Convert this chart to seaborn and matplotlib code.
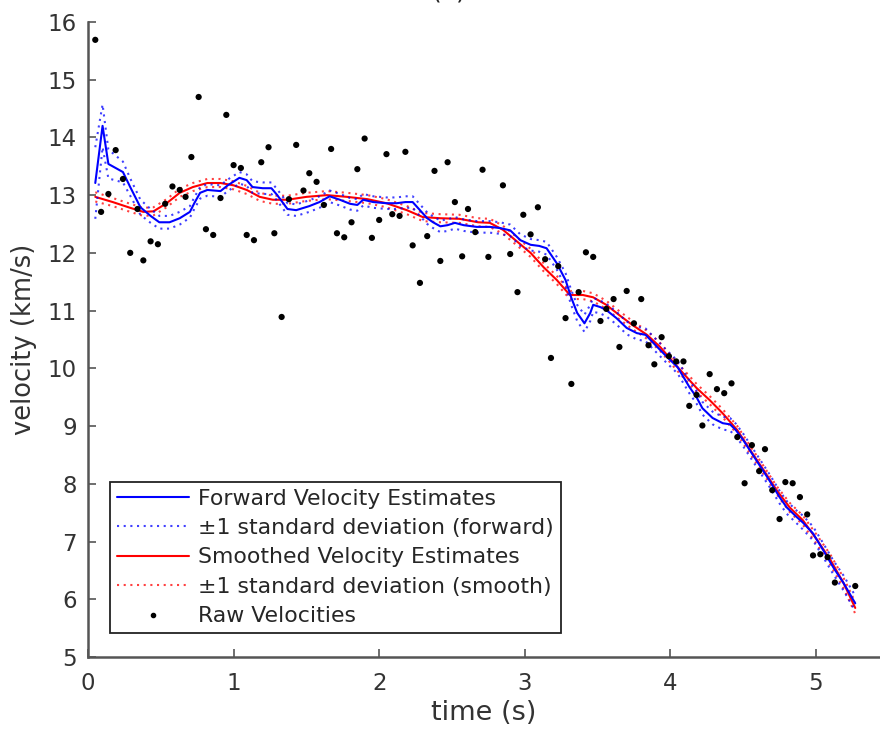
import numpy as np
import pandas as pd
import matplotlib
matplotlib.use("Agg")
import matplotlib.pyplot as plt
from matplotlib.lines import Line2D
import seaborn as sns

# ---------------- data ----------------
fwd_t = [0.05, 0.10, 0.14, 0.24, 0.29, 0.36, 0.43, 0.49, 0.56, 0.63,
         0.70, 0.73, 0.77, 0.82, 0.91, 0.96, 1.04, 1.09, 1.13, 1.20,
         1.26, 1.30, 1.37, 1.43, 1.52, 1.59, 1.66, 1.73, 1.80, 1.85,
         1.89, 1.96, 2.05, 2.12, 2.18, 2.23, 2.28, 2.33, 2.37, 2.42,
         2.47, 2.52, 2.58, 2.67, 2.76, 2.83, 2.90, 2.97, 3.04, 3.10,
         3.15, 3.22, 3.28, 3.32, 3.36, 3.41, 3.45, 3.47, 3.52, 3.56,
         3.63, 3.70, 3.77, 3.83, 3.91, 3.98, 4.05, 4.13, 4.18, 4.22,
         4.29, 4.36, 4.41, 4.45, 4.50, 4.59, 4.68, 4.75, 4.80, 4.87,
         4.91, 4.98, 5.05, 5.12, 5.19, 5.27]
fwd_v = [13.21, 14.20, 13.54, 13.40, 13.14, 12.79, 12.64, 12.53, 12.53, 12.60,
         12.71, 12.86, 13.04, 13.09, 13.07, 13.17, 13.30, 13.26, 13.14, 13.12,
         13.12, 13.00, 12.76, 12.74, 12.81, 12.88, 12.98, 12.92, 12.85, 12.83,
         12.92, 12.88, 12.86, 12.86, 12.88, 12.88, 12.74, 12.60, 12.53, 12.46,
         12.48, 12.52, 12.48, 12.45, 12.45, 12.43, 12.39, 12.22, 12.14, 12.12,
         12.08, 11.82, 11.53, 11.22, 10.96, 10.78, 10.96, 11.10, 11.06, 11.01,
         10.87, 10.70, 10.61, 10.58, 10.37, 10.19, 10.02, 9.68, 9.50, 9.31,
         9.14, 9.05, 9.03, 8.93, 8.76, 8.41, 8.06, 7.77, 7.59, 7.42,
         7.33, 7.14, 6.85, 6.55, 6.28, 5.93]
fwd_sd = [0.62, 0.37, 0.25, 0.18, 0.15, 0.13, 0.12, 0.11, 0.11, 0.11,
          0.10, 0.10, 0.10, 0.10, 0.10, 0.10, 0.10, 0.10, 0.10, 0.10,
          0.10, 0.10, 0.10, 0.10, 0.10, 0.10, 0.10, 0.10, 0.10, 0.10,
          0.10, 0.10, 0.10, 0.10, 0.10, 0.10, 0.10, 0.10, 0.10, 0.10,
          0.10, 0.10, 0.10, 0.10, 0.10, 0.10, 0.10, 0.10, 0.10, 0.10,
          0.11, 0.11, 0.12, 0.13, 0.14, 0.15, 0.14, 0.12, 0.11, 0.11,
          0.11, 0.11, 0.11, 0.11, 0.11, 0.11, 0.11, 0.11, 0.11, 0.11,
          0.11, 0.11, 0.11, 0.11, 0.11, 0.11, 0.11, 0.11, 0.11, 0.11,
          0.12, 0.12, 0.12, 0.12, 0.13, 0.13]

sm_t = [0.05, 0.17, 0.29, 0.38, 0.45, 0.54, 0.63, 0.72, 0.82, 0.91,
        1.00, 1.09, 1.18, 1.27, 1.37, 1.50, 1.64, 1.78, 1.92, 2.05,
        2.19, 2.30, 2.42, 2.55, 2.68, 2.76, 2.85, 2.95, 3.04, 3.13,
        3.22, 3.31, 3.40, 3.47, 3.56, 3.65, 3.74, 3.84, 3.93, 4.05,
        4.18, 4.27, 4.36, 4.46, 4.55, 4.64, 4.73, 4.82, 4.91, 5.01,
        5.10, 5.19, 5.27]
sm_v = [12.97, 12.88, 12.78, 12.71, 12.72, 12.86, 13.04, 13.14, 13.21, 13.21,
        13.17, 13.09, 12.97, 12.92, 12.92, 12.97, 13.00, 12.97, 12.93, 12.86,
        12.74, 12.62, 12.60, 12.59, 12.53, 12.52, 12.40, 12.19, 12.00, 11.75,
        11.53, 11.27, 11.27, 11.23, 11.10, 10.92, 10.75, 10.58, 10.37, 10.02,
        9.66, 9.45, 9.22, 8.93, 8.58, 8.24, 7.89, 7.59, 7.37, 7.02,
        6.68, 6.28, 5.85]
sm_sd = [0.08, 0.07, 0.07, 0.07, 0.07, 0.07, 0.07, 0.07, 0.07, 0.07,
         0.07, 0.07, 0.07, 0.07, 0.07, 0.07, 0.07, 0.07, 0.07, 0.07,
         0.07, 0.07, 0.07, 0.07, 0.07, 0.07, 0.07, 0.07, 0.07, 0.07,
         0.07, 0.07, 0.07, 0.07, 0.07, 0.07, 0.07, 0.07, 0.07, 0.07,
         0.07, 0.07, 0.07, 0.07, 0.07, 0.07, 0.07, 0.08, 0.08, 0.08,
         0.09, 0.09, 0.10]

raw_t = [0.05, 0.09, 0.14, 0.19, 0.24, 0.29, 0.34, 0.38, 0.43, 0.48,
         0.53, 0.58, 0.63, 0.67, 0.71, 0.76, 0.81, 0.86, 0.91, 0.95,
         1.00, 1.05, 1.09, 1.14, 1.19, 1.24, 1.28, 1.33, 1.38, 1.43,
         1.48, 1.52, 1.57, 1.62, 1.67, 1.71, 1.76, 1.81, 1.85, 1.90,
         1.95, 2.00, 2.05, 2.09, 2.14, 2.18, 2.23, 2.28, 2.33, 2.38,
         2.42, 2.47, 2.52, 2.57, 2.61, 2.66, 2.71, 2.75, 2.85, 2.90,
         2.95, 2.99, 3.04, 3.09, 3.14, 3.18, 3.23, 3.28, 3.32, 3.37,
         3.42, 3.47, 3.52, 3.56, 3.61, 3.65, 3.70, 3.75, 3.80, 3.85,
         3.89, 3.94, 3.99, 4.04, 4.09, 4.13, 4.18, 4.22, 4.27, 4.32,
         4.37, 4.42, 4.46, 4.51, 4.56, 4.61, 4.65, 4.70, 4.75, 4.79,
         4.84, 4.89, 4.94, 4.98, 5.03, 5.08, 5.13, 5.27]
raw_v = [15.69, 12.71, 13.02, 13.78, 13.28, 12.00, 12.76, 11.87, 12.20, 12.15,
         12.85, 13.15, 13.09, 12.97, 13.66, 14.70, 12.41, 12.31, 12.95, 14.39,
         13.52, 13.47, 12.31, 12.22, 13.57, 13.83, 12.34, 10.89, 12.93, 13.87,
         13.08, 13.38, 13.23, 12.83, 13.80, 12.34, 12.27, 12.53, 13.45, 13.98,
         12.26, 12.57, 13.71, 12.67, 12.64, 13.75, 12.13, 11.48, 12.29, 13.42,
         11.86, 13.57, 12.88, 11.94, 12.76, 12.36, 13.44, 11.93, 13.17, 11.98,
         11.32, 12.66, 12.32, 12.79, 11.89, 10.18, 11.77, 10.87, 9.73, 11.32,
         12.01, 11.93, 10.82, 11.03, 11.20, 10.37, 11.34, 10.78, 11.20, 10.40,
         10.07, 10.54, 10.21, 10.12, 10.12, 9.35, 9.54, 9.01, 9.90, 9.64,
         9.57, 9.74, 8.81, 8.01, 8.67, 8.22, 8.60, 7.89, 7.39, 8.03,
         8.01, 7.77, 7.47, 6.76, 6.78, 6.73, 6.29, 6.23]

x_ticks = [0, 1, 2, 3, 4, 5]
y_ticks = [5, 6, 7, 8, 9, 10, 11, 12, 13, 14, 15, 16]

labels = ["Forward Velocity Estimates",
          "\u00b11 standard deviation (forward)",
          "Smoothed Velocity Estimates",
          "\u00b11 standard deviation (smooth)",
          "Raw Velocities"]

# ---------------- plot ----------------
sns.set_theme(style="ticks")
plt.rcParams['font.family'] = ['DejaVu Sans']

fwd = pd.DataFrame({"t": fwd_t, "v": fwd_v, "sd": fwd_sd})
fwd["hi"] = fwd["v"] + fwd["sd"]
fwd["lo"] = fwd["v"] - fwd["sd"]
sm = pd.DataFrame({"t": sm_t, "v": sm_v, "sd": sm_sd})
sm["hi"] = sm["v"] + sm["sd"]
sm["lo"] = sm["v"] - sm["sd"]
raw = pd.DataFrame({"t": raw_t, "v": raw_v})

fig = plt.figure(figsize=(8.8, 7.31), dpi=100)
ax = fig.add_axes([0.1, 0.1012, 0.9, 0.8688])

BLUE = "#0000ff"
RED = "#ff0000"
dot_kw = dict(linestyle=(0, (1, 2.2)), linewidth=1.5, alpha=0.75)

sns.lineplot(data=sm, x="t", y="hi", color=RED, sort=False, estimator=None, ax=ax, **dot_kw)
sns.lineplot(data=sm, x="t", y="lo", color=RED, sort=False, estimator=None, ax=ax, **dot_kw)
sns.lineplot(data=sm, x="t", y="v", color=RED, sort=False, estimator=None, ax=ax, linewidth=1.5)
sns.lineplot(data=fwd, x="t", y="hi", color=BLUE, sort=False, estimator=None, ax=ax, **dot_kw)
sns.lineplot(data=fwd, x="t", y="lo", color=BLUE, sort=False, estimator=None, ax=ax, **dot_kw)
sns.lineplot(data=fwd, x="t", y="v", color=BLUE, sort=False, estimator=None, ax=ax, linewidth=1.5)
sns.scatterplot(data=raw, x="t", y="v", color="black", s=20, edgecolor="none", ax=ax, zorder=5)

ax.set_xlim(0, 5.44)
ax.set_ylim(5, 16)
ax.set_xticks(x_ticks)
ax.set_yticks(y_ticks)
ax.set_xlabel("time (s)", fontsize=19.5, color="#333333")
ax.set_ylabel("velocity (km/s)", fontsize=18.5, color="#333333")
ax.xaxis.set_label_coords(0.5, -0.068)
ax.yaxis.set_label_coords(-0.064, 0.5)
ax.tick_params(direction="in", length=6, width=1.2, colors="#555555",
               labelcolor="#333333", labelsize=16.5)
ax.tick_params(axis="y", pad=8)
ax.tick_params(axis="x", pad=11)
sns.despine(ax=ax)
for s in ("left", "bottom"):
    ax.spines[s].set_color("#555555")
    ax.spines[s].set_linewidth(1.8)

handles = [
    Line2D([], [], color=BLUE, linewidth=1.5),
    Line2D([], [], color=BLUE, **dot_kw),
    Line2D([], [], color=RED, linewidth=1.5),
    Line2D([], [], color=RED, **dot_kw),
    Line2D([], [], color="black", linestyle="none", marker="o", markersize=3),
]
leg = ax.legend(handles, labels, loc="lower left", bbox_to_anchor=(0.028, 0.038),
                fontsize=15.8, frameon=True, fancybox=False, framealpha=1,
                edgecolor="#222222", handlelength=3.3, labelspacing=0.43,
                borderpad=0.3, handletextpad=0.42, borderaxespad=0)
leg.get_frame().set_linewidth(1.3)
for t in leg.get_texts():
    t.set_color("#262626")

fig.text(0.511, 1 + 1.5 / 731, "(a)", ha="center", va="baseline", fontsize=18, color="#222222")

fig.savefig("out.png", dpi=100)
